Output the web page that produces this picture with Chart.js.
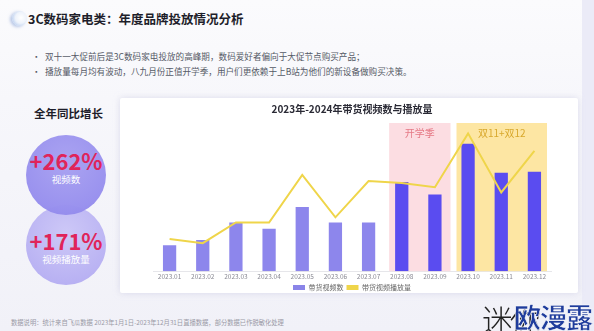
<!DOCTYPE html>
<html><head><meta charset="utf-8">
<script src="https://cdn.jsdelivr.net/npm/chart.js@4"></script>
<style>
html,body{margin:0;padding:0;}
body{width:594px;height:331px;overflow:hidden;position:relative;font-family:"Noto Sans CJK SC","Noto Sans",sans-serif;background:linear-gradient(180deg,#fbfbfd 0%,#f7f7fb 30%,#f1f1f8 100%);}
.abs{position:absolute;white-space:nowrap;}
#icon{left:12px;top:11px;width:15px;height:15px;border-radius:50%;background:radial-gradient(circle at 60% 45%,#ffffff 0%,#eef3fb 45%,#b9cdee 80%,#8eaee0 100%);box-shadow:-2px 1px 3px rgba(120,150,210,0.5);}
#htitle{left:28px;top:11px;font-size:12.5px;font-weight:bold;color:#1e1e2a;line-height:16px;}
.bul{left:32px;font-size:8.6px;color:#555a66;line-height:11px;}
.bul span{display:inline-block;width:13px;}
#lefttitle{left:34px;top:105px;font-size:11.5px;font-weight:bold;color:#1e1e2a;}
.circle{border-radius:50%;width:80px;height:80px;}
#c2{left:26px;top:205px;background:radial-gradient(circle at 50% 35%,#cdc8f7 0%,#bab3f3 70%,#b1a9f1 100%);}
#c1{left:26px;top:135px;background:radial-gradient(circle at 50% 35%,#a8a1f1 0%,#978fee 70%,#8c83ea 100%);opacity:0.97;}
.big{font-size:22px;font-weight:bold;color:#e0245a;width:80px;text-align:center;line-height:24px;}
.small{font-size:9.5px;color:#ffffff;width:80px;text-align:center;line-height:12px;}
#card{left:120px;top:98px;width:458px;height:195px;background:#ffffff;box-shadow:0 0 6px rgba(200,200,225,0.6);border-radius:2px;}
#rightbg{left:582px;top:0;width:12px;height:331px;background:#ebebf7;}
#foot{left:11px;top:318px;font-size:6.3px;color:#9a9aa6;}
#wm1{left:482px;top:296px;font-size:31px;color:#222;font-weight:300;letter-spacing:-3px;}
#wm2{left:514px;top:297px;font-size:27px;color:#1f3c9c;font-weight:bold;letter-spacing:-1px;-webkit-text-stroke:0.5px #ffffff;}
#chartwrap{left:120px;top:98px;width:458px;height:203px;}
</style></head>
<body>
<div id="rightbg" class="abs"></div>
<div id="icon" class="abs"></div>
<div id="htitle" class="abs">3C数码家电类：年度品牌投放情况分析</div>
<div class="abs bul" style="top:51px"><span>•</span>双十一大促前后是3C数码家电投放的高峰期，数码爱好者偏向于大促节点购买产品；</div>
<div class="abs bul" style="top:66px"><span>•</span>播放量每月均有波动，八九月份正值开学季，用户们更依赖于上B站为他们的新设备做购买决策。</div>
<div id="card" class="abs"></div>
<div id="lefttitle" class="abs">全年同比增长</div>
<div id="c2" class="abs circle"></div>
<div id="c1" class="abs circle"></div>
<div class="abs big" style="left:26px;top:148px">+262%</div>
<div class="abs small" style="left:26px;top:173px">视频数</div>
<div class="abs big" style="left:26px;top:228px">+171%</div>
<div class="abs small" style="left:26px;top:253px">视频播放量</div>
<div id="chartwrap" class="abs"><canvas id="chart" width="458" height="203"></canvas></div>
<div id="foot" class="abs">数据说明：统计来自飞瓜数据 2023年1月1日-2023年12月31日直播数据，部分数据已作脱敏化处理</div>
<div id="wm1" class="abs">迷你</div>
<div id="wm2" class="abs">欧漫露</div>
<script>
const categories = ["2023.01","2023.02","2023.03","2023.04","2023.05","2023.06","2023.07","2023.08","2023.09","2023.10","2023.11","2023.12"];
const videoCounts = [25, 30, 47, 41, 62, 47, 47, 86, 74, 123, 95, 96];
const playCounts = [31, 27, 47, 47, 93, 52, 87, 85, 81, 133, 76, 116];
const seriesNames = ["带货视频数", "带货视频播放量"];
const chartTitle = "2023年-2024年带货视频数与播放量";
const highlightLabels = ["开学季", "双11+双12"];

const barColors = videoCounts.map((v, i) => i < 7 ? "#8d86ec" : "#5a4cf0");

const regionPlugin = {
  id: "regions",
  beforeDatasetsDraw(chart) {
    const {ctx, chartArea, scales} = chart;
    const x = scales.x;
    const half = (x.getPixelForValue(1) - x.getPixelForValue(0)) / 2;
    const regions = [
      {from: 7, to: 8, color: "#fcdde2", text: highlightLabels[0], tcolor: "#e57a86", inL: 4, inR: 1},
      {from: 9, to: 11, color: "#fde6a3", text: highlightLabels[1], tcolor: "#d8a82c", inL: 5, inR: 4}
    ];
    ctx.save();
    regions.forEach(r => {
      const l = x.getPixelForValue(r.from) - half + r.inL;
      const rr = x.getPixelForValue(r.to) + half - r.inR;
      ctx.fillStyle = r.color;
      ctx.fillRect(l, chartArea.top, rr - l, chartArea.bottom - chartArea.top);
      ctx.fillStyle = r.tcolor;
      ctx.font = '10px "Noto Sans CJK SC"';
      ctx.textAlign = "center";
      ctx.textBaseline = "middle";
      ctx.fillText(r.text, (l + rr) / 2, chartArea.top + 10);
    });
    ctx.restore();
  }
};

new Chart(document.getElementById("chart"), {
  type: "bar",
  data: {
    labels: categories,
    datasets: [
      {type: "line", label: seriesNames[1], data: playCounts, borderColor: "#efd54a", backgroundColor: "#efd54a", borderWidth: 2, pointRadius: 0, tension: 0, order: 0},
      {type: "bar", label: seriesNames[0], data: videoCounts, backgroundColor: barColors, barPercentage: 0.4, categoryPercentage: 1, order: 1}
    ]
  },
  options: {
    responsive: false,
    animation: false,
    devicePixelRatio: 1,
    layout: {padding: {left: 33, right: 27, top: 0, bottom: 0}},
    plugins: {
      title: {display: true, text: chartTitle, color: "#2a2a35", font: {size: 10, weight: "bold", family: "Noto Sans CJK SC"}, padding: {top: 5, bottom: 8}},
      legend: {
        position: "bottom",
        reverse: true,
        labels: {
          boxWidth: 12, boxHeight: 5, padding: 3, color: "#666", font: {size: 7, family: "Noto Sans CJK SC"},
          generateLabels(chart) {
            return chart.data.datasets.map((ds, i) => ({
              text: ds.label,
              fillStyle: i === 1 ? "#8a84e8" : "#efd54a",
              strokeStyle: i === 1 ? "#8a84e8" : "#efd54a",
              lineWidth: 0,
              datasetIndex: i,
              fontColor: "#666"
            }));
          }
        }
      },
      tooltip: {enabled: false}
    },
    scales: {
      x: {
        grid: {display: false, drawTicks: false, tickLength: 0},
        border: {color: "#e6e6ea"},
        ticks: {color: "#8a8a94", font: {size: 6.5, family: "Noto Sans CJK SC"}, padding: 1, maxRotation: 0}
      },
      y: {display: false, min: 0, max: 143}
    }
  },
  plugins: [regionPlugin]
});
</script>
</body></html>
